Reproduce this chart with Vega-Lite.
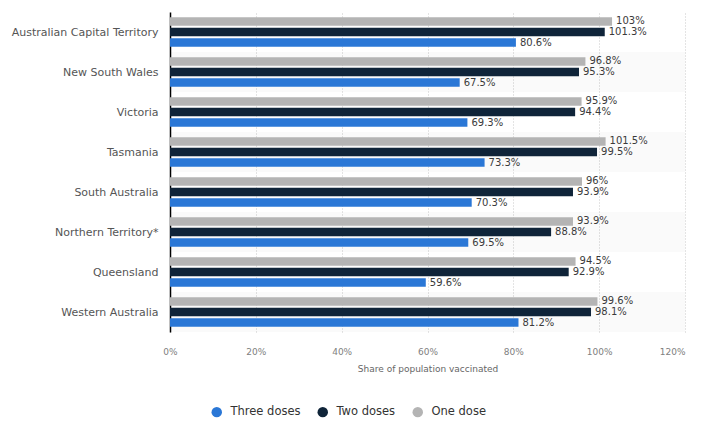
{
  "$schema": "https://vega.github.io/schema/vega-lite/v6.json",
  "width": 515,
  "height": 320,
  "autosize": {"type": "none"},
  "padding": {"left": 170, "top": 12, "right": 24, "bottom": 98},
  "background": "white",
  "config": {"view": {"stroke": null}, "font": "DejaVu Sans"},
  "data": {"values": [
    {"state": "Australian Capital Territory", "dose": "One dose", "value": 1.03},
    {"state": "Australian Capital Territory", "dose": "Two doses", "value": 1.013},
    {"state": "Australian Capital Territory", "dose": "Three doses", "value": 0.806},
    {"state": "New South Wales", "dose": "One dose", "value": 0.968},
    {"state": "New South Wales", "dose": "Two doses", "value": 0.953},
    {"state": "New South Wales", "dose": "Three doses", "value": 0.675},
    {"state": "Victoria", "dose": "One dose", "value": 0.959},
    {"state": "Victoria", "dose": "Two doses", "value": 0.944},
    {"state": "Victoria", "dose": "Three doses", "value": 0.693},
    {"state": "Tasmania", "dose": "One dose", "value": 1.015},
    {"state": "Tasmania", "dose": "Two doses", "value": 0.995},
    {"state": "Tasmania", "dose": "Three doses", "value": 0.733},
    {"state": "South Australia", "dose": "One dose", "value": 0.96},
    {"state": "South Australia", "dose": "Two doses", "value": 0.939},
    {"state": "South Australia", "dose": "Three doses", "value": 0.703},
    {"state": "Northern Territory*", "dose": "One dose", "value": 0.939},
    {"state": "Northern Territory*", "dose": "Two doses", "value": 0.888},
    {"state": "Northern Territory*", "dose": "Three doses", "value": 0.695},
    {"state": "Queensland", "dose": "One dose", "value": 0.945},
    {"state": "Queensland", "dose": "Two doses", "value": 0.929},
    {"state": "Queensland", "dose": "Three doses", "value": 0.596},
    {"state": "Western Australia", "dose": "One dose", "value": 0.996},
    {"state": "Western Australia", "dose": "Two doses", "value": 0.981},
    {"state": "Western Australia", "dose": "Three doses", "value": 0.812}
  ]},
  "encoding": {
    "y": {
      "field": "state", "type": "nominal",
      "sort": ["Australian Capital Territory", "New South Wales", "Victoria", "Tasmania", "South Australia", "Northern Territory*", "Queensland", "Western Australia"],
      "scale": {"paddingInner": 0, "paddingOuter": 0},
      "axis": {"title": null, "ticks": false, "domain": true, "domainColor": "#000000", "domainWidth": 1.5, "labelFontSize": 11, "labelColor": "#555555", "labelPadding": 12, "labelBaseline": "middle", "labelOffset": 1, "grid": false}
    }
  },
  "layer": [
    {
      "transform": [
        {"filter": {"field": "dose", "equal": "One dose"}},
        {"filter": {"field": "state", "oneOf": ["New South Wales", "Tasmania", "Northern Territory*", "Western Australia"]}}
      ],
      "mark": {"type": "bar", "color": "#000000", "opacity": 0.02},
      "encoding": {
        "x": {"datum": 0, "type": "quantitative", "scale": {"domain": [0, 1.2]},
          "axis": {"title": "Share of population vaccinated", "grid": true, "gridDash": [1, 2], "gridColor": "#c8c8c8", "ticks": false, "domain": false, "labelFontSize": 9, "labelColor": "#808080", "labelPadding": 15, "labelFlush": false, "labelAlign": {"condition": {"test": "datum.value >= 1.2", "value": "right"}, "value": "center"}, "values": [0, 0.2, 0.4, 0.6, 0.8, 1, 1.2], "format": "~%", "titleFontSize": 9, "titleFontWeight": "normal", "titleColor": "#666666", "titlePadding": 8}},
        "x2": {"datum": 1.2}
      }
    },
    {
      "mark": {"type": "bar"},
      "encoding": {
        "x": {"field": "value", "type": "quantitative", "scale": {"domain": [0, 1.2]},
          "axis": {"title": "Share of population vaccinated", "grid": true, "gridDash": [1, 2], "gridColor": "#c8c8c8", "ticks": false, "domain": false, "labelFontSize": 9, "labelColor": "#808080", "labelPadding": 15, "labelFlush": false, "labelAlign": {"condition": {"test": "datum.value >= 1.2", "value": "right"}, "value": "center"}, "values": [0, 0.2, 0.4, 0.6, 0.8, 1, 1.2], "format": "~%", "titleFontSize": 9, "titleFontWeight": "normal", "titleColor": "#666666", "titlePadding": 8}},
        "yOffset": {"field": "dose", "type": "nominal", "sort": ["One dose", "Two doses", "Three doses"], "scale": {"paddingInner": 0.2, "paddingOuter": 0.5}},
        "color": {
          "field": "dose", "type": "nominal",
          "scale": {"domain": ["Three doses", "Two doses", "One dose"], "range": ["#2a77d6", "#0f2439", "#b4b4b4"]},
          "legend": {"title": null, "orient": "none", "legendX": 41, "legendY": 394, "direction": "horizontal", "symbolType": "circle", "symbolSize": 110, "symbolStrokeWidth": 0, "labelFontSize": 11.5, "labelColor": "#333333", "labelOffset": 8, "columnPadding": 16}
        }
      }
    },
    {
      "mark": {"type": "text", "align": "left", "baseline": "middle", "dx": 4, "fontSize": 10, "color": "#3a3a3a"},
      "encoding": {
        "x": {"field": "value", "type": "quantitative"},
        "yOffset": {"field": "dose", "type": "nominal", "sort": ["One dose", "Two doses", "Three doses"], "scale": {"paddingInner": 0.2, "paddingOuter": 0.5}},
        "text": {"field": "value", "type": "quantitative", "format": ".1~%"}
      }
    }
  ]
}
